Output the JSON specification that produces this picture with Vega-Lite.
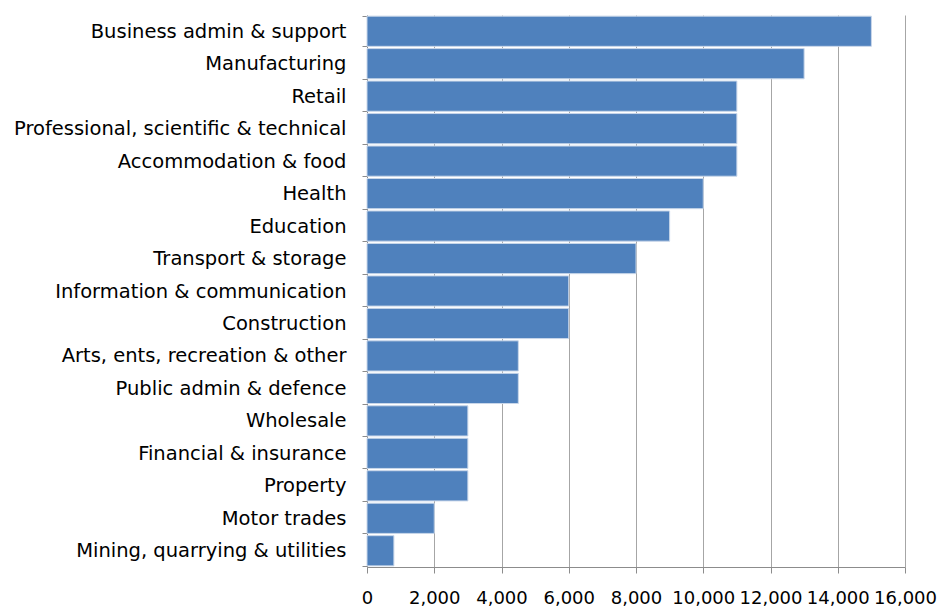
{
  "$schema": "https://vega.github.io/schema/vega-lite/v6.json",
  "width": 538,
  "height": 552,
  "autosize": {"type": "none"},
  "padding": {"left": 367, "top": 15, "right": 35, "bottom": 40},
  "background": "white",
  "data": {
    "values": [
      {"sector": "Business admin & support", "value": 15000},
      {"sector": "Manufacturing", "value": 13000},
      {"sector": "Retail", "value": 11000},
      {"sector": "Professional, scientific & technical", "value": 11000},
      {"sector": "Accommodation & food", "value": 11000},
      {"sector": "Health", "value": 10000},
      {"sector": "Education", "value": 9000},
      {"sector": "Transport & storage", "value": 8000},
      {"sector": "Information & communication", "value": 6000},
      {"sector": "Construction", "value": 6000},
      {"sector": "Arts, ents, recreation & other", "value": 4500},
      {"sector": "Public admin & defence", "value": 4500},
      {"sector": "Wholesale", "value": 3000},
      {"sector": "Financial & insurance", "value": 3000},
      {"sector": "Property", "value": 3000},
      {"sector": "Motor trades", "value": 2000},
      {"sector": "Mining, quarrying & utilities", "value": 800}
    ]
  },
  "config": {
    "view": {"stroke": null},
    "axis": {"labelFont": "DejaVu Sans", "labelColor": "#000000", "domainColor": "#8c8c8c", "tickColor": "#8c8c8c", "gridColor": "#a6a6a6", "tickWidth": 1, "domainWidth": 1}
  },
  "mark": {"type": "bar", "color": "#4F81BD", "stroke": "#c9d7ea", "strokeWidth": 1},
  "encoding": {
    "y": {
      "field": "sector",
      "type": "nominal",
      "sort": null,
      "scale": {"paddingInner": 0.07, "paddingOuter": 0.035},
      "axis": {"title": null, "tickBand": "extent", "tickSize": 5, "labelPadding": 16, "labelFontSize": 19.5, "labelLimit": 500, "grid": false}
    },
    "x": {
      "field": "value",
      "type": "quantitative",
      "scale": {"domain": [0, 16000], "nice": false},
      "axis": {"title": null, "values": [0, 2000, 4000, 6000, 8000, 10000, 12000, 14000, 16000], "format": ",d", "tickSize": 6, "labelPadding": 16, "labelFontSize": 18, "labelOverlap": false, "labelFlush": false, "grid": true}
    }
  }
}
